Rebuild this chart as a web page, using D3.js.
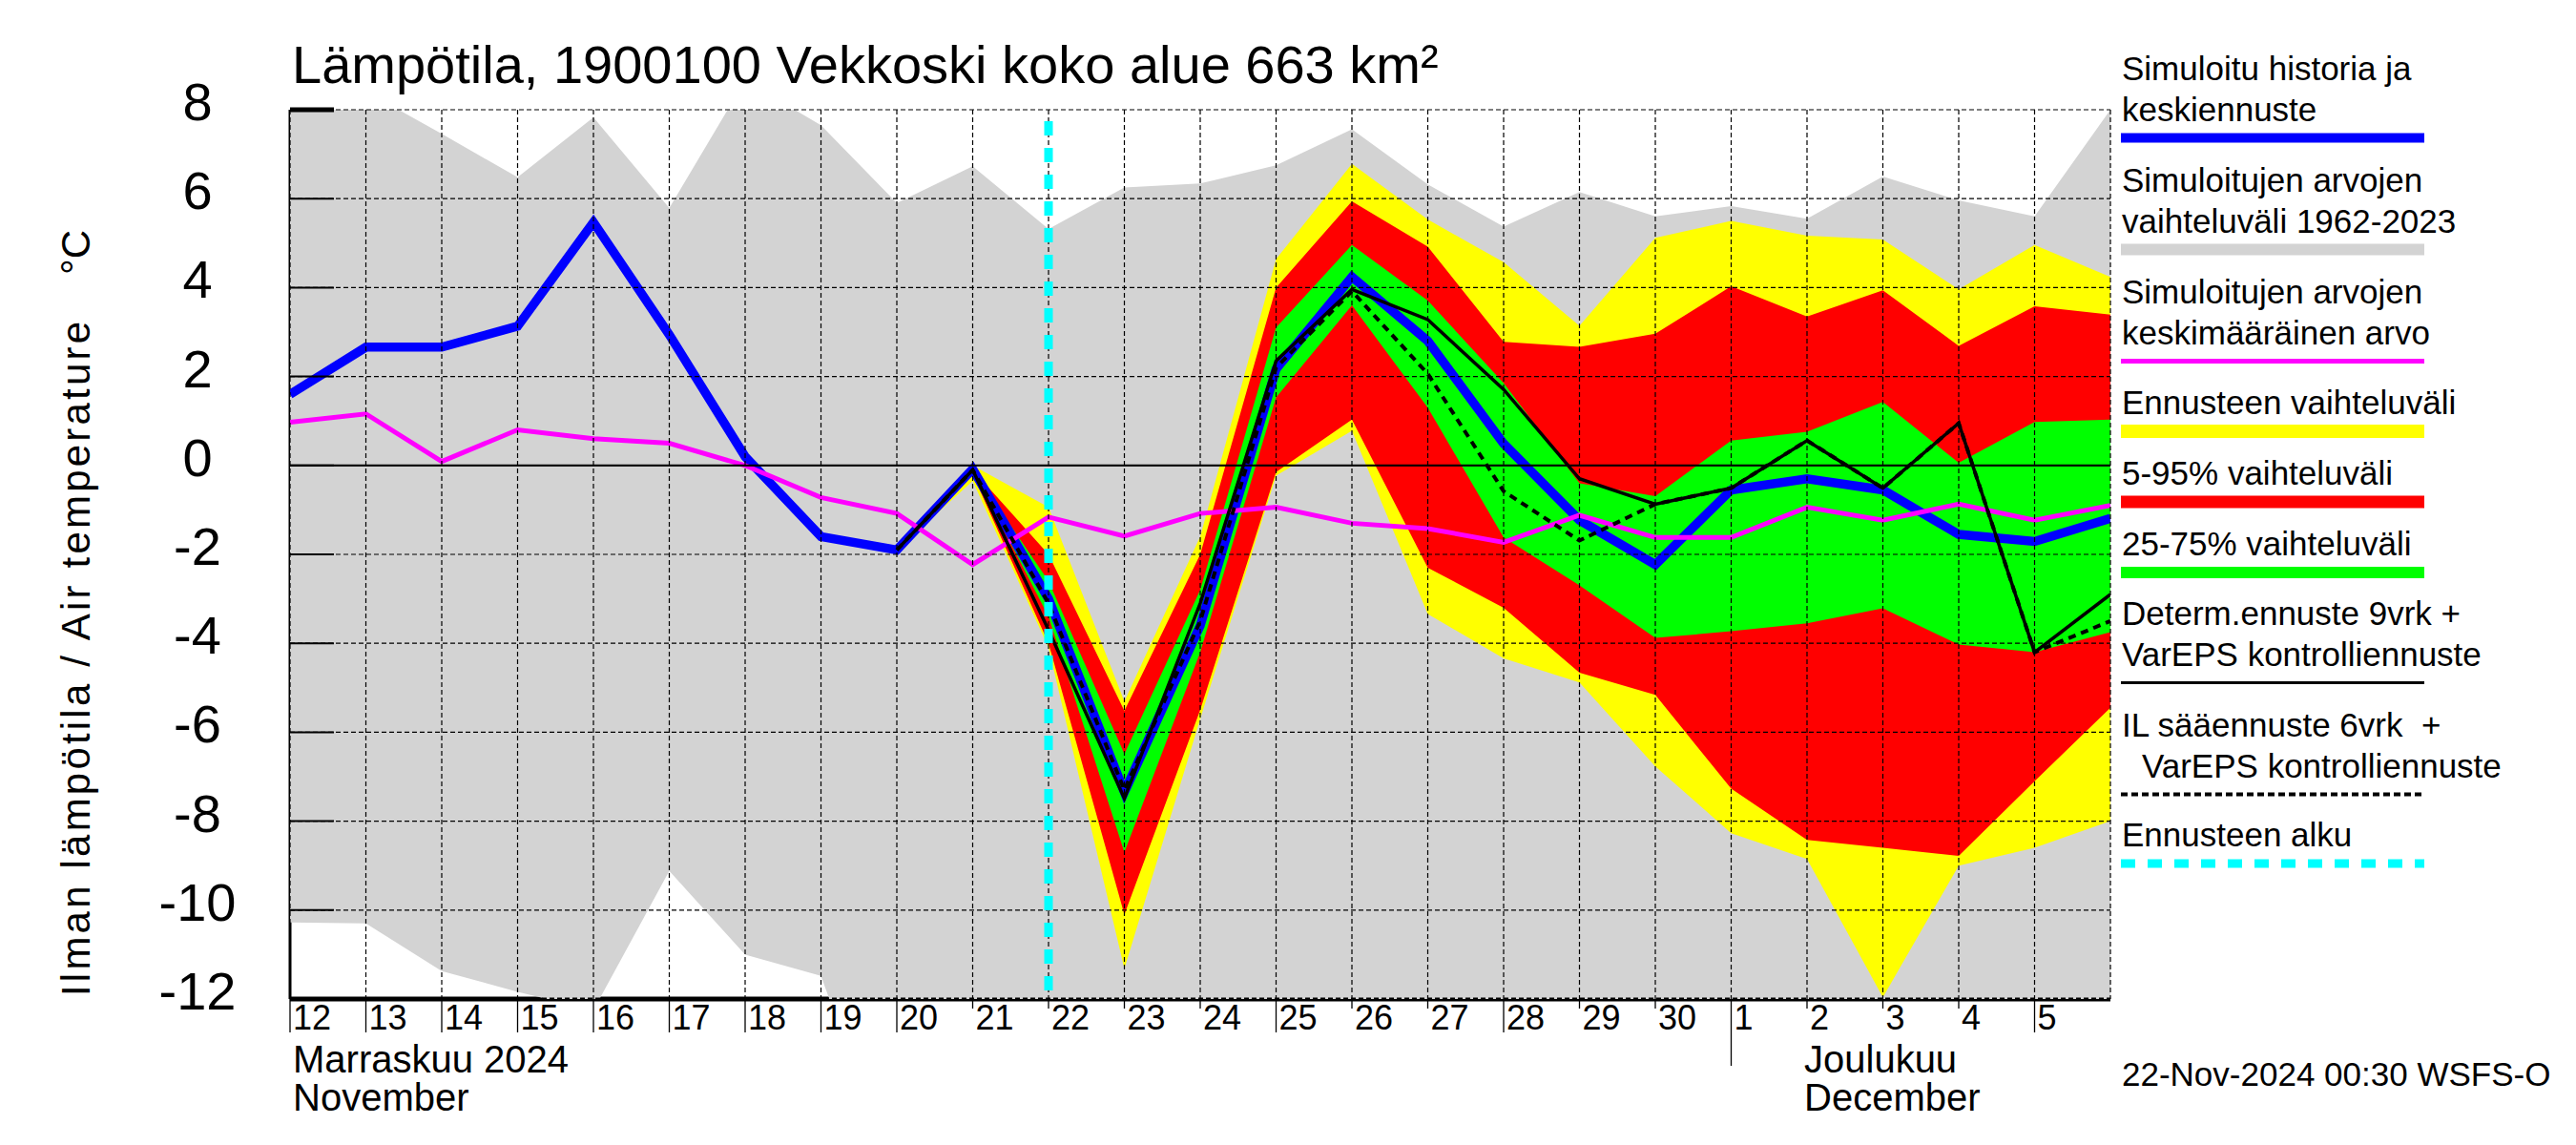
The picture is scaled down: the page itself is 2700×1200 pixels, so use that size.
<!DOCTYPE html>
<html>
<head>
<meta charset="utf-8">
<script src="https://cdn.jsdelivr.net/npm/d3@7/dist/d3.min.js"></script>
<style>
  body { margin: 0; background: #fff; }
  svg { display: block; }
  text { font-family: "Liberation Sans", Arial, sans-serif; fill: #000; }
</style>
</head>
<body>
<svg id="chart" width="2700" height="1200"></svg>
<script>
// ---------- DATA ----------
// Day index 0 = 12 Nov 2024 00:00, 24 = 6 Dec 2024 00:00
const dayLabels = ["12","13","14","15","16","17","18","19","20","21","22","23","24","25","26","27","28","29","30","1","2","3","4","5"];
const longTickDays = [0,1,2,3,4,5,6,7,8,13,16,23];
const yTicks = [-12,-10,-8,-6,-4,-2,0,2,4,6,8];

// Historical range 1962-2023 (Nov 12 .. Dec 6)
const histMax = [8.6, 8.41, 7.46, 6.48, 7.83, 5.79, 8.66, 7.65, 5.9, 6.73, 5.32, 6.25, 6.34, 6.75, 7.56, 6.32, 5.37, 6.15, 5.6, 5.83, 5.55, 6.5, 5.96, 5.6, 8.0];
const histMin = [-10.28, -10.3, -11.37, -11.84, -12.25, -9.12, -11.0, -11.48, -16.2, -16, -16, -16, -16, -16, -16, -16, -16, -16, -16, -16, -16, -16, -16, -16, -16];
// Simulated history + mean forecast (Nov 12 .. Dec 6)
const simMean = [1.6, 2.66, 2.66, 3.13, 5.47, 2.94, 0.2, -1.6, -1.9, -0.08, -3.0, -7.35, -3.6, 2.17, 4.24, 2.8, 0.49, -1.23, -2.23, -0.55, -0.3, -0.55, -1.55, -1.71, -1.19];
// Mean of simulated values (Nov 12 .. Dec 6)
const climMean = [0.97, 1.16, 0.09, 0.8, 0.6, 0.5, 0.0, -0.72, -1.08, -2.23, -1.16, -1.59, -1.08, -0.94, -1.3, -1.42, -1.73, -1.12, -1.62, -1.62, -0.94, -1.23, -0.87, -1.23, -0.9];

// Forecast series start at index 8 (Nov 20) .. 24 (Dec 6)
const fcStart = 8;
const ensMax = [-1.9, 0.0, -0.94, -5.31, -1.6, 4.64, 6.78, 5.53, 4.57, 3.14, 5.12, 5.5, 5.17, 5.08, 3.96, 4.96, 4.24];
const p95    = [-1.9, -0.1, -2.0, -5.52, -2.0, 4.0, 5.94, 4.92, 2.78, 2.67, 2.96, 4.03, 3.35, 3.94, 2.69, 3.58, 3.39];
const p75    = [-1.9, -0.1, -2.6, -6.49, -2.8, 3.1, 4.96, 3.71, 1.85, -0.4, -0.69, 0.56, 0.76, 1.43, 0.06, 0.98, 1.03];
const p25    = [-1.9, -0.1, -3.4, -8.7, -4.2, 1.53, 3.6, 1.3, -1.62, -2.7, -3.88, -3.73, -3.55, -3.21, -4.03, -4.2, -3.75];
const p05    = [-1.9, -0.2, -4.0, -10.1, -5.5, -0.15, 1.03, -2.3, -3.2, -4.66, -5.16, -7.27, -8.42, -8.6, -8.78, -7.1, -5.45];
const ensMin = [-1.9, -0.35, -4.1, -11.32, -5.7, -0.23, 0.78, -3.34, -4.34, -4.88, -6.77, -8.27, -8.85, -11.96, -9.0, -8.6, -8.0];
const determ = [-1.9, -0.1, -3.7, -7.49, -3.1, 2.35, 3.96, 3.28, 1.71, -0.3, -0.87, -0.51, 0.56, -0.51, 0.95, -4.2, -2.9];
const ilFc   = [-1.9, -0.1, -3.1, -7.3, -3.5, 2.2, 3.92, 2.06, -0.58, -1.69, -0.87, -0.51, 0.56, -0.51, 0.95, -4.2, -3.5];
const forecastStartDay = 10; // Nov 22

const titleText = "Lämpötila, 1900100 Vekkoski koko alue 663 km²";
const yTitle = "Ilman lämpötila / Air temperature";
const yUnit = "°C";
const timestamp = "22-Nov-2024 00:30 WSFS-O";

// ---------- LAYOUT ----------
const svg = d3.select("#chart");
const L = 304, R = 2212, T = 115, B = 1047;
const x = d3.scaleLinear().domain([0, 24]).range([L, R]);
const y = d3.scaleLinear().domain([-12, 8]).range([B, T]);

svg.append("rect").attr("width", 2700).attr("height", 1200).attr("fill", "#fff");
svg.append("defs").append("clipPath").attr("id", "plotclip")
  .append("rect").attr("x", L).attr("y", T).attr("width", R - L).attr("height", B - T);

// axis lines (under fills)
svg.append("line").attr("x1", L).attr("x2", L).attr("y1", T).attr("y2", B)
  .attr("stroke", "#000").attr("stroke-width", 3);
svg.append("line").attr("x1", L).attr("x2", R).attr("y1", B).attr("y2", B)
  .attr("stroke", "#000").attr("stroke-width", 5);

const plotTop = svg.append("g").attr("clip-path", "url(#plotclip)");

function areaOf(lo, hi, start) {
  return d3.area()
    .x((d, i) => x(start + i))
    .y0((d, i) => y(lo[i]))
    .y1((d, i) => y(hi[i]))(lo);
}
function lineOf(vals, start) {
  return d3.line().x((d, i) => x(start + i)).y(d => y(d))(vals);
}

plotTop.append("path").attr("d", areaOf(histMin, histMax, 0)).attr("fill", "#d3d3d3");
plotTop.append("path").attr("d", areaOf(ensMin, ensMax, fcStart)).attr("fill", "#ffff00");
plotTop.append("path").attr("d", areaOf(p05, p95, fcStart)).attr("fill", "#ff0000");
plotTop.append("path").attr("d", areaOf(p25, p75, fcStart)).attr("fill", "#00ff00");

// gridlines
const grid = svg.append("g");
d3.range(0, 25).forEach(i => {
  grid.append("line").attr("x1", x(i)).attr("x2", x(i)).attr("y1", T).attr("y2", B)
    .attr("stroke", "#000").attr("stroke-width", 1.2).attr("stroke-dasharray", "5,3");
});
yTicks.forEach(v => {
  grid.append("line").attr("x1", L).attr("x2", R).attr("y1", y(v)).attr("y2", y(v))
    .attr("stroke", "#000").attr("stroke-width", v === -12 ? 3 : 1.2)
    .attr("stroke-dasharray", v === 0 ? null : "5,3");
});
grid.append("line").attr("x1", L).attr("x2", R).attr("y1", y(0)).attr("y2", y(0))
  .attr("stroke", "#000").attr("stroke-width", 2);
yTicks.forEach(v => {
  grid.append("line").attr("x1", L).attr("x2", L + 46).attr("y1", y(v)).attr("y2", y(v))
    .attr("stroke", "#000").attr("stroke-width", v === 8 ? 5 : 2);
});

// lines
plotTop.append("path").attr("d", lineOf(simMean, 0)).attr("fill", "none")
  .attr("stroke", "#0000ff").attr("stroke-width", 9.5).attr("stroke-linejoin", "miter");
plotTop.append("path").attr("d", lineOf(climMean, 0)).attr("fill", "none")
  .attr("stroke", "#ff00ff").attr("stroke-width", 5);
plotTop.append("path").attr("d", lineOf(ilFc, fcStart)).attr("fill", "none")
  .attr("stroke", "#000").attr("stroke-width", 4).attr("stroke-dasharray", "8,6");
plotTop.append("path").attr("d", lineOf(determ, fcStart)).attr("fill", "none")
  .attr("stroke", "#000").attr("stroke-width", 3.5);

// forecast start
svg.append("line").attr("x1", x(forecastStartDay)).attr("x2", x(forecastStartDay))
  .attr("y1", T + 12).attr("y2", B)
  .attr("stroke", "#00ffff").attr("stroke-width", 9).attr("stroke-dasharray", "15,13");

// x axis ticks and labels
const xa = svg.append("g");
dayLabels.forEach((lab, i) => {
  const long = longTickDays.includes(i);
  xa.append("line").attr("x1", x(i)).attr("x2", x(i)).attr("y1", B)
    .attr("y2", i === 19 ? 1117 : (long ? 1082 : 1057))
    .attr("stroke", "#000").attr("stroke-width", 1.3);
  xa.append("text").attr("x", x(i) + 3).attr("y", 1079)
    .attr("font-size", 36).text(lab);
});
xa.append("text").attr("x", 307).attr("y", 1124).attr("font-size", 40).text("Marraskuu 2024");
xa.append("text").attr("x", 307).attr("y", 1164).attr("font-size", 40).text("November");
xa.append("text").attr("x", 1891).attr("y", 1124).attr("font-size", 40).text("Joulukuu");
xa.append("text").attr("x", 1891).attr("y", 1164).attr("font-size", 40).text("December");

// y labels
yTicks.forEach(v => {
  svg.append("text").attr("x", 207).attr("y", y(v) + 11).attr("text-anchor", "middle")
    .attr("font-size", 56).text(String(v));
});

// titles
svg.append("text").attr("x", 306).attr("y", 87).attr("font-size", 56).text(titleText);
svg.append("text").attr("transform", "translate(94,1044) rotate(-90)")
  .attr("font-size", 42).attr("textLength", 707).attr("lengthAdjust", "spacing").text(yTitle);
svg.append("text").attr("transform", "translate(94,288) rotate(-90)")
  .attr("font-size", 42).text(yUnit);

// legend
const lg = svg.append("g");
const LX = 2224, LX2 = 2541;
const legendItems = [
  { lines: ["Simuloitu historia ja", "keskiennuste"], top: 84, color: "#0000ff", w: 10 },
  { lines: ["Simuloitujen arvojen", "vaihteluväli 1962-2023"], top: 201, color: "#d3d3d3", w: 12 },
  { lines: ["Simuloitujen arvojen", "keskimääräinen arvo"], top: 318, color: "#ff00ff", w: 5 },
  { lines: ["Ennusteen vaihteluväli"], top: 434, color: "#ffff00", w: 14 },
  { lines: ["5-95% vaihteluväli"], top: 508, color: "#ff0000", w: 13 },
  { lines: ["25-75% vaihteluväli"], top: 582, color: "#00ff00", w: 12 },
  { lines: ["Determ.ennuste 9vrk +", "VarEPS kontrolliennuste"], top: 655, color: "#000", w: 3 },
  { lines: ["IL sääennuste 6vrk  +", "VarEPS kontrolliennuste"], top: 772, color: "#000", w: 4, dash: "7,4", indent2: 21 },
  { lines: ["Ennusteen alku"], top: 887, color: "#00ffff", w: 9, dash: "15,13" }
];
legendItems.forEach(it => {
  it.lines.forEach((t, k) => {
    lg.append("text").attr("x", LX + (k === 1 && it.indent2 ? it.indent2 : 0))
      .attr("y", it.top + k * 42.5).attr("font-size", 35)
      .style("white-space", "pre").text(t);
  });
  const ly = it.top + (it.lines.length - 1) * 42.5 + 18;
  lg.append("line").attr("x1", LX - 1).attr("x2", LX2).attr("y1", ly).attr("y2", ly)
    .attr("stroke", it.color).attr("stroke-width", it.w)
    .attr("stroke-dasharray", it.dash || null);
});
svg.append("text").attr("x", LX).attr("y", 1138).attr("font-size", 35).text(timestamp);
</script>
</body>
</html>
